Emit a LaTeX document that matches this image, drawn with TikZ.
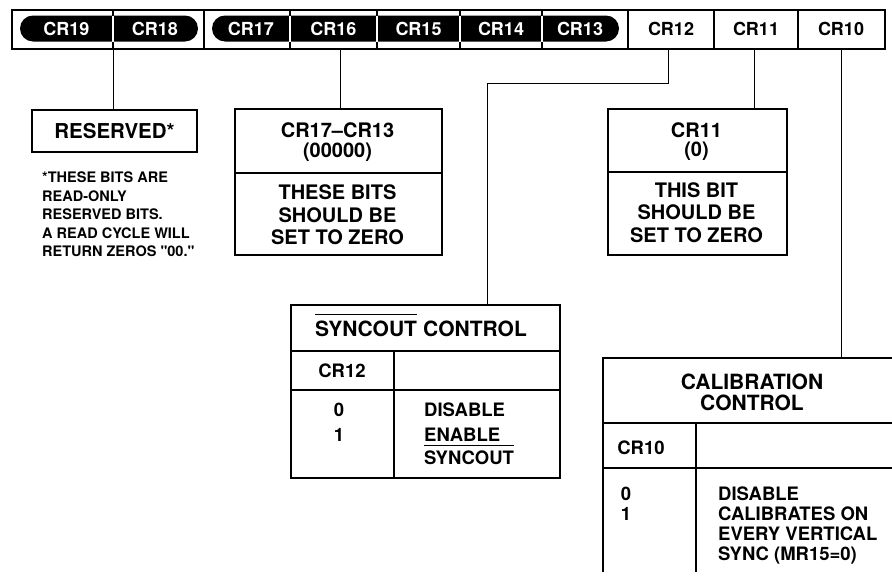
\documentclass[tikz,border=0pt]{standalone}
\usepackage{fontspec}
\setmainfont{TeX Gyre Heros}
\newfontfamily\qfont{TeX Gyre Heros}
\newcommand\sq{{\qfont\bfseries "}}
\begin{document}
\begin{tikzpicture}[x=1pt,y=-1pt,
  sep/.style={line width=2pt},
  box/.style={draw, line width=1.6pt, inner sep=0pt, anchor=north west},
  rule/.style={line width=1.6pt},
  conn/.style={line width=1pt},
  lbl/.style={inner sep=0pt, font=\fontsize{18}{20}\selectfont\bfseries},
  wlbl/.style={lbl, text=white},
  big/.style={inner sep=0pt, align=center, font=\fontsize{20}{22.5}\selectfont\bfseries},
  ttl/.style={inner sep=0pt, align=center, font=\fontsize{21}{21}\selectfont\bfseries},
  tab/.style={inner sep=0pt, align=left, font=\fontsize{18.5}{20}\selectfont\bfseries},
  note/.style={inner sep=0pt, align=left, font=\fontsize{14.5}{18.5}\selectfont\bfseries}]
\fill[white] (0,0) rectangle (892,576);
\useasboundingbox (0,0) rectangle (892,576);

% register bar
\foreach \x in {113,204,290,377,460,542,628,714,798} \draw[sep] (\x,9) -- (\x,48);
\fill[rounded corners=13pt] (20,15.5) rectangle (198,41.5);
\fill[rounded corners=13pt] (212,15.5) rectangle (619,41.5);
\foreach \x in {113,290,377,460,542} \draw[white, line width=1.5pt] (\x,15.5) -- (\x,41.5);
\node[draw, line width=2pt, minimum width=873pt, minimum height=39pt, inner sep=0pt, anchor=north west] (bar) at (11,9) {};

\node[wlbl] (l19) at (66.5,28.5) {CR19};
\node[wlbl] (l18) at (155,28.5) {CR18};
\node[wlbl] (l17) at (251,28.5) {CR17};
\node[wlbl] (l16) at (333.5,28.5) {CR16};
\node[wlbl] (l15) at (418.5,28.5) {CR15};
\node[wlbl] (l14) at (501,28.5) {CR14};
\node[wlbl] (l13) at (580,28.5) {CR13};
\node[lbl] (l12) at (671,28.5) {CR12};
\node[lbl] (l11) at (756,28.5) {CR11};
\node[lbl] (l10) at (841,28.5) {CR10};

\coordinate (p19) at (113,48);
\coordinate (p16) at (340,48);
\coordinate (p12) at (668,48);
\coordinate (p11) at (754,48);
\coordinate (p10) at (841,48);
\coordinate (q2) at (487,83);

% RESERVED
\node[draw, line width=1.6pt, inner sep=0pt, minimum width=165pt, minimum height=42pt,
  font=\fontsize{20.5}{22}\selectfont\bfseries] (res) at (114.5,131) {RESERVED*};
\node[note, anchor=north west] (fn) at (42,172) {*THESE BITS ARE\\READ-ONLY\\RESERVED BITS.\\A READ CYCLE WILL\\RETURN ZEROS \sq00.\sq};

% CR17-CR13 box
\node[box, minimum width=207pt, minimum height=146pt] (bx) at (234,108) {};
\draw[rule] (234,173) -- (441,173);
\node[big] (bxa) at (337.5,130) {CR17–CR13};
\node[big] (bxb) at (337.5,152) {(00000)};
\node[big] (bxc) at (337.5,215) {THESE BITS\\SHOULD BE\\SET TO ZERO};

% CR11 box
\node[box, minimum width=179pt, minimum height=146pt] (by) at (607,108) {};
\draw[rule] (607,172) -- (786,172);
\node[big] (bya) at (696.5,130) {CR11};
\node[big] (byb) at (696.5,151) {(0)};
\node[big] (byc) at (696.5,212.5) {THIS BIT\\SHOULD BE\\SET TO ZERO};

% SYNCOUT box
\node[box, minimum width=269pt, minimum height=173pt] (syn) at (290,304) {};
\draw[rule] (290,351) -- (559,351);
\draw[rule] (290,390) -- (559,390);
\draw[rule] (394,351) -- (394,477);
\node[ttl, anchor=west] (sya) at (315,329) {SYNCOUT};
\node[ttl, anchor=west] (syb) at ([xshift=5.8pt]sya.east) {CONTROL};
\draw[line width=1.2pt] ([yshift=6pt]sya.north west) -- ([yshift=6pt]sya.north east);
\node[tab] (syc) at (342,371) {CR12};
\node[tab] (sy0) at (339,410) {0};
\node[tab] (sy1) at (339,435) {1};
\node[tab, anchor=west] (syd) at (424,410) {DISABLE};
\node[tab, anchor=west] (sye) at (424,435) {ENABLE};
\node[tab, anchor=west] (syf) at (424,458) {SYNCOUT};
\draw[line width=1.2pt] ([yshift=5pt]syf.north west) -- ([yshift=5pt]syf.north east);

% CALIBRATION box
\node[inner sep=0pt, minimum width=289pt, minimum height=214pt, anchor=north west] (cal) at (603,358) {};
\draw[rule] (603,572) -- (603,358) -- (893,358);
\draw[rule] (603,423) -- (893,423);
\draw[rule] (603,468) -- (893,468);
\draw[rule] (696,423) -- (696,572);
\node[ttl] (cala) at (752,392.5) {CALIBRATION\\CONTROL};
\node[tab] (calb) at (641,448) {CR10};
\node[tab, anchor=north] (calc) at (626,486.5) {0\\1};
\node[tab, anchor=north west] (cald) at (718,486.5) {DISABLE\\CALIBRATES ON\\EVERY VERTICAL\\SYNC (MR15=0)};

% connectors
\draw[conn] (p19) -- (p19 |- res.north);
\draw[conn] (p16) -- (p16 |- bx.north);
\draw[conn] (p11) -- (p11 |- by.north);
\draw[conn] (p12) |- (q2) -- (q2 |- syn.north);
\draw[conn] (p10) -- (p10 |- cal.north);
\end{tikzpicture}
\end{document}
